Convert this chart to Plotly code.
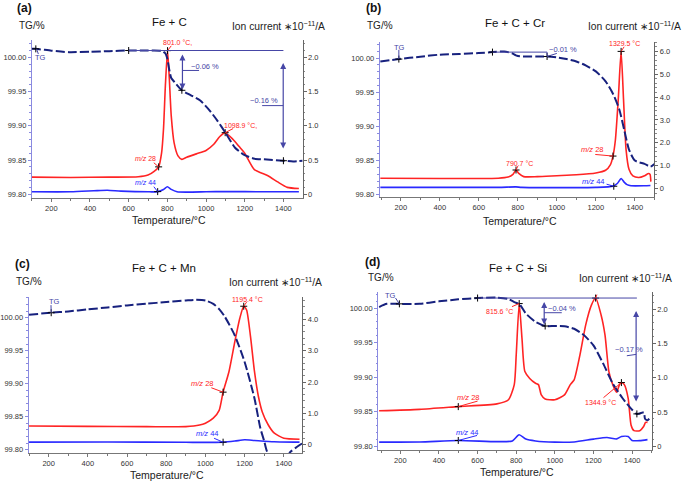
import plotly.graph_objects as go

W, H = 685, 483

# ---------------- (a) Fe + C ----------------
T_tg_a = [100, 120, 200, 290, 400, 500, 600, 700, 770, 790, 800, 810, 820, 840, 875, 920, 970, 1020, 1060, 1100, 1150, 1200, 1250, 1300, 1400, 1450, 1500]
tg_a = [100.0126, 100.0126, 100.0100, 100.0078, 100.0083, 100.0092, 100.0102, 100.0102, 100.0097, 100.006, 99.998, 99.982, 99.970, 99.963, 99.952, 99.945, 99.937, 99.922, 99.907, 99.890, 99.868, 99.857, 99.852, 99.851, 99.849, 99.848, 99.849]
T_28_a = [100, 300, 500, 650, 700, 730, 755, 770, 780, 790, 801, 810, 820, 835, 855, 875, 900, 950, 1000, 1040, 1070, 1099, 1140, 1170, 1200, 1250, 1320, 1370, 1420, 1480]
ms28_a = [0.25, 0.245, 0.25, 0.255, 0.28, 0.33, 0.40, 0.60, 0.95, 1.60, 2.10, 1.70, 1.15, 0.75, 0.56, 0.51, 0.54, 0.59, 0.64, 0.73, 0.84, 0.90, 0.80, 0.70, 0.60, 0.36, 0.27, 0.18, 0.10, 0.083]
T_44_a = [100, 300, 420, 490, 560, 700, 750, 780, 800, 820, 850, 1000, 1100, 1300, 1480]
ms44_a = [0.035, 0.035, 0.05, 0.058, 0.045, 0.035, 0.038, 0.07, 0.11, 0.07, 0.035, 0.035, 0.04, 0.035, 0.035]

# ---------------- (b) Fe + C + Cr ----------------
T_tg_b = [95, 190, 300, 400, 500, 600, 670, 730, 770, 790, 810, 900, 950, 1000, 1050, 1100, 1150, 1200, 1250, 1290, 1320, 1345, 1370, 1400, 1450, 1480, 1500]
tg_b = [99.995, 99.9985, 100.002, 100.005, 100.006, 100.0073, 100.0087, 100.0096, 100.007, 100.004, 100.0025, 100.0023, 100.0023, 100.001, 99.9985, 99.995, 99.989, 99.9805, 99.966, 99.9465, 99.925, 99.8955, 99.866, 99.850, 99.845, 99.841, 99.845]
T_28_b = [95, 400, 700, 750, 775, 790.7, 805, 830, 900, 1000, 1100, 1200, 1250, 1275, 1288, 1300, 1315, 1329.5, 1342, 1355, 1370, 1390, 1420, 1450, 1470, 1478, 1482]
ms28_b = [0.45, 0.44, 0.45, 0.50, 0.62, 0.81, 0.66, 0.52, 0.52, 0.56, 0.60, 0.68, 0.80, 1.05, 1.42, 2.10, 3.90, 6.00, 3.90, 1.70, 0.84, 0.55, 0.48, 0.56, 0.66, 0.62, 0.30]
T_44_b = [95, 700, 790, 820, 1200, 1288, 1310, 1330, 1345, 1360, 1380, 1450, 1480]
ms44_b = [0.05, 0.05, 0.07, 0.05, 0.05, 0.10, 0.22, 0.44, 0.28, 0.17, 0.12, 0.12, 0.13]

# ---------------- (c) Fe + C + Mn ----------------
T_tg_c = [100, 213, 300, 400, 500, 600, 700, 800, 900, 950, 1000, 1040, 1070, 1100, 1150, 1200, 1250, 1280, 1300, 1315, 1350, 1380, 1410, 1431, 1460, 1495]
tg_c = [100.0045, 100.0075, 100.0095, 100.0125, 100.0155, 100.0186, 100.0212, 100.0236, 100.026, 100.027, 100.026, 100.021, 100.013, 100.001, 99.973, 99.933, 99.878, 99.833, 99.813, 99.797, 99.786, 99.780, 99.784, 99.796, 99.803, 99.810]
T_28_c = [100, 400, 700, 900, 970, 1000, 1040, 1070, 1090, 1120, 1150, 1175, 1195.4, 1210, 1230, 1250, 1270, 1290, 1320, 1350, 1400, 1480]
ms28_c = [0.60, 0.59, 0.58, 0.58, 0.63, 0.69, 0.85, 1.10, 1.68, 2.33, 3.29, 4.03, 4.42, 4.30, 3.45, 2.35, 1.55, 1.05, 0.64, 0.38, 0.21, 0.18]
T_44_c = [100, 500, 900, 1090, 1150, 1200, 1250, 1350, 1480]
ms44_c = [0.085, 0.09, 0.08, 0.085, 0.12, 0.16, 0.14, 0.10, 0.085]

# ---------------- (d) Fe + C + Si ----------------
T_tg_d = [90, 130, 195, 300, 400, 500, 600, 700, 760, 790, 815.6, 850, 900, 950, 1000, 1050, 1100, 1150, 1200, 1250, 1300, 1350, 1400, 1425, 1455, 1462, 1467, 1480, 1500]
tg_d = [100.0014, 100.006, 100.006, 100.006, 100.0096, 100.0125, 100.0144, 100.015, 100.013, 100.0086, 100.006, 99.992, 99.980, 99.974, 99.974, 99.9736, 99.970, 99.961, 99.946, 99.920, 99.891, 99.870, 99.853, 99.847, 99.849, 99.849, 99.840, 99.838, 99.843]
T_28_d = [90, 300, 500, 700, 760, 790, 800, 815.6, 830, 845, 870, 900, 915, 930, 950, 1000, 1050, 1080, 1100, 1130, 1160, 1190, 1211.3, 1240, 1260, 1280, 1300, 1320, 1335, 1344.9, 1360, 1380, 1395, 1410, 1440, 1460, 1470, 1480]
ms28_d = [0.52, 0.54, 0.58, 0.62, 0.68, 0.90, 1.33, 2.08, 1.57, 1.09, 0.99, 0.92, 0.90, 0.75, 0.69, 0.68, 0.75, 0.90, 0.97, 1.33, 1.77, 2.06, 2.16, 1.91, 1.62, 1.09, 0.90, 0.79, 0.90, 0.93, 0.90, 0.70, 0.31, 0.23, 0.23, 0.29, 0.35, 0.35]
T_44_d = [90, 300, 500, 700, 780, 815, 850, 900, 1000, 1100, 1200, 1270, 1320, 1345, 1380, 1400, 1440, 1480]
ms44_d = [0.063, 0.065, 0.087, 0.07, 0.08, 0.17, 0.107, 0.08, 0.063, 0.066, 0.107, 0.13, 0.11, 0.145, 0.145, 0.087, 0.085, 0.10]

# marker points ("+")
plus_tg = {0: ([120, 600, 875, 1400], [100.0126, 100.0102, 99.952, 99.849]),
           1: ([190, 670, 950], [99.9985, 100.0087, 100.0023]),
           2: ([213], [100.0075]),
           3: ([195, 600, 950, 1425], [100.006, 100.0144, 99.974, 99.847])}
plus_ms = {0: ([755, 801, 1099, 750], [0.40, 2.10, 0.90, 0.038]),
           1: ([790.7, 1288, 1329.5, 1292], [0.81, 1.42, 6.0, 0.10]),
           2: ([1090, 1195.4, 1090], [1.68, 4.42, 0.085]),
           3: ([500, 815.6, 1211.3, 1344.9, 500], [0.58, 2.08, 2.16, 0.93, 0.087])}

titles = ["Fe + C", "Fe + C + Cr", "Fe + C + Mn", "Fe + C + Si"]
letters = ["(a)", "(b)", "(c)", "(d)"]

# panel pixel boxes: left, right, top, bottom
boxes = [(31, 302, 40, 199), (379.3, 654.3, 41.7, 198.3), (27.7, 301.7, 298.3, 455), (377.7, 651.7, 293.3, 451.7)]
xranges = [[100, 1499], [92, 1500], [98, 1494], [85, 1502]]
tgranges = [[99.7942, 100.0258], [99.7959, 100.0242], [99.795, 100.0312], [99.7951, 100.023]]
ionranges = [[-0.058, 2.258], [-0.392, 6.431], [-0.264, 4.712], [-0.049, 2.247]]
iontv = [[0, 0.5, 1, 1.5, 2], [0, 1, 2, 3, 4, 5, 6], [0, 1, 2, 3, 4], [0, 0.5, 1, 1.5, 2]]
ionminor = [0.1, 0.2, 0.2, 0.1]

data_sets = [(T_tg_a, tg_a, T_28_a, ms28_a, T_44_a, ms44_a),
             (T_tg_b, tg_b, T_28_b, ms28_b, T_44_b, ms44_b),
             (T_tg_c, tg_c, T_28_c, ms28_c, T_44_c, ms44_c),
             (T_tg_d, tg_d, T_28_d, ms28_d, T_44_d, ms44_d)]

NAVY = "#17217e"
RED = "#ff2424"
BLUE = "#2a2aff"
SLATE = "#4646a6"
FONT = "Arial, Liberation Sans, sans-serif"

fig = go.Figure()
layout = dict(width=W, height=H, margin=dict(l=0, r=0, t=0, b=0),
              paper_bgcolor="white", plot_bgcolor="white", showlegend=False,
              font=dict(family=FONT, color="#333"))
annotations = []
shapes = []


def px(x):
    return x / W


def py(y):
    return 1 - y / H


for p in range(4):
    xn = "x" if p == 0 else f"x{p+1}"
    yi_ion = 2 * p + 1
    yi_tg = 2 * p + 2
    yn_ion = "y" if yi_ion == 1 else f"y{yi_ion}"
    yn_tg = f"y{yi_tg}"
    l, r, t, b = boxes[p]
    xkey = "xaxis" if p == 0 else f"xaxis{p+1}"
    layout[xkey] = dict(domain=[px(l), px(r)], anchor=yn_ion, range=xranges[p],
                        tickvals=[200, 400, 600, 800, 1000, 1200, 1400],
                        showline=True, linecolor="#777", linewidth=1, ticks="outside",
                        ticklen=3, tickcolor="#777", tickfont=dict(size=7.5, color="#333"),
                        showgrid=False, zeroline=False,
                        minor=dict(dtick=100, tick0=0, ticks="outside", ticklen=2, tickcolor="#777"))
    ykey_ion = "yaxis" if yi_ion == 1 else f"yaxis{yi_ion}"
    layout[ykey_ion] = dict(domain=[py(b), py(t)], anchor=xn, side="right", range=ionranges[p],
                            tickvals=iontv[p],
                            ticktext=["0" if v == 0 else f"{v:.1f}" for v in iontv[p]],
                            showline=True, linecolor="#666", linewidth=1, ticks="outside",
                            ticklen=3, tickcolor="#666", tickfont=dict(size=7.5, color="#333"),
                            showgrid=False, zeroline=False,
                            minor=dict(dtick=ionminor[p], tick0=0, ticks="outside", ticklen=1.5, tickcolor="#888"))
    tv = [99.80, 99.85, 99.90, 99.95, 100.00]
    layout[f"yaxis{yi_tg}"] = dict(overlaying=yn_ion, anchor=xn, side="left", range=tgranges[p],
                                   tickvals=tv, ticktext=[f"{v:.2f}" for v in tv],
                                   showline=True, linecolor="#8a8ae0", linewidth=1, ticks="outside",
                                   ticklen=3, tickcolor="#8a8ae0", tickfont=dict(size=7.5, color="#333"),
                                   showgrid=False, zeroline=False,
                                   minor=dict(dtick=0.01, tick0=99.8, ticks="outside", ticklen=1.5, tickcolor="#8a8ae0"))
    Tt, tg, T28, m28, T44, m44 = data_sets[p]
    fig.add_trace(go.Scatter(x=T28, y=m28, xaxis=xn, yaxis=yn_ion, mode="lines",
                             line=dict(color=RED, width=1.6, shape="spline", smoothing=0.6)))
    fig.add_trace(go.Scatter(x=T44, y=m44, xaxis=xn, yaxis=yn_ion, mode="lines",
                             line=dict(color=BLUE, width=1.6, shape="spline", smoothing=0.6)))
    fig.add_trace(go.Scatter(x=plus_ms[p][0], y=plus_ms[p][1], xaxis=xn, yaxis=yn_ion, mode="markers",
                             marker=dict(symbol="cross-thin", size=5, line=dict(color="black", width=1))))
    fig.add_trace(go.Scatter(x=Tt, y=tg, xaxis=xn, yaxis=yn_tg, mode="lines",
                             line=dict(color=NAVY, width=2, dash="9px,3px", shape="spline", smoothing=0.6)))
    fig.add_trace(go.Scatter(x=plus_tg[p][0], y=plus_tg[p][1], xaxis=xn, yaxis=yn_tg, mode="markers",
                             marker=dict(symbol="cross-thin", size=5, line=dict(color="black", width=1))))

# panel headers (pixel positions -> paper)
hdr = [
    # letter (x,y), title (x,y), TG/% (x,y), ion (x,y), temp (x,y)
    ((23.3, 8.3), (168.3, 22.3), (30.8, 25.7), (277.5, 25.7), (168.3, 221)),
    ((373.3, 8.3), (515, 22.7), (380, 25.7), (634.5, 25.7), (520, 221.5)),
    ((21.7, 265), (163.5, 269.3), (28.3, 282.7), (275, 282.7), (166, 477.3)),
    ((371.7, 262.7), (517.5, 269.3), (380.5, 278.3), (625.5, 278.3), (517, 473.8)),
]


def ptext(x, y, text, size, color):
    annotations.append(dict(x=px(x), y=py(y), xref="paper", yref="paper", text=text,
                            xanchor="center", yanchor="middle", showarrow=False,
                            font=dict(size=size, color=color)))


for p in range(4):
    lt, tt, tg_, io, te = hdr[p]
    ptext(lt[0], lt[1], "<b>" + letters[p] + "</b>", 12, "#111")
    ptext(tt[0], tt[1], titles[p], 11.5, "#111")
    ptext(tg_[0], tg_[1], "TG/%", 10, "#222")
    ptext(io[0], io[1], "Ion current ∗10<sup>−11</sup>/A", 10.3, "#222")
    ptext(te[0], te[1], "Temperature/°C", 10.5, "#222")


def label(xa, ya, x, y, text, color, size=7.5):
    annotations.append(dict(x=x, y=y, xref=xa, yref=ya, text=text, showarrow=False,
                            xanchor="center", yanchor="middle",
                            font=dict(size=size, color=color)))


def seg(xa, ya, x0, y0, x1, y1, color, w=1):
    shapes.append(dict(type="line", xref=xa, yref=ya, x0=x0, y0=y0, x1=x1, y1=y1,
                       line=dict(color=color, width=w)))


def darrow(xa, ya, x, y0, y1):
    annotations.append(dict(x=x, y=y1, ax=x, ay=y0, xref=xa, yref=ya, axref=xa, ayref=ya,
                            text="", showarrow=True, arrowhead=2, arrowside="end+start",
                            arrowsize=1, arrowwidth=1.2, arrowcolor=SLATE))


# ---- (a) labels
label("x", "y", 852, 2.22, "801.0 °C,", RED, 7)
seg("x", "y", 820, 2.17, 801, 2.10, RED)
label("x", "y", 1179, 1.005, "1098.9 °C,", RED, 7)
seg("x", "y", 1099, 0.90, 1140, 0.96, RED)
label("x", "y", 688, 0.52, "<i>m/z</i> 28", RED, 7)
seg("x", "y", 730, 0.46, 755, 0.40, RED)
label("x", "y", 688, 0.17, "<i>m/z</i> 44", BLUE, 7)
seg("x", "y", 730, 0.11, 750, 0.038, BLUE)
label("x", "y2", 145, 100.0006, "TG", SLATE, 7.5)
seg("x", "y2", 124, 100.0126, 133, 100.005, SLATE)
seg("x", "y2", 600, 100.0102, 1400, 100.0102, SLATE)
darrow("x", "y2", 878, 100.0064, 99.953)
seg("x", "y2", 878, 99.981, 964, 99.981, SLATE)
label("x", "y2", 993, 99.987, "−0.06 %", SLATE, 7.5)
darrow("x", "y2", 1399, 99.994, 99.867)
seg("x", "y2", 1290, 99.9296, 1399, 99.9296, SLATE)
label("x", "y2", 1301, 99.937, "−0.16 %", SLATE, 7.5)

# ---- (b) labels
label("x2", "y4", 194, 100.0155, "TG", SLATE, 7.5)
seg("x2", "y4", 190, 100.012, 190, 99.9985, SLATE)
seg("x2", "y4", 670, 100.0087, 950, 100.0087, SLATE)
seg("x2", "y4", 950, 100.0087, 950, 100.0023, SLATE)
seg("x2", "y4", 950, 100.0023, 1000, 100.0068, SLATE)
label("x2", "y4", 1030, 100.013, "−0.01 %", SLATE, 7.5)
label("x2", "y3", 1346, 6.36, "1329.5 °C", RED, 7)
seg("x2", "y3", 1329.5, 6.0, 1345, 6.2, RED)
label("x2", "y3", 807, 1.10, "790.7 °C", RED, 7)
seg("x2", "y3", 790.7, 0.81, 800, 0.98, RED)
label("x2", "y3", 1183, 1.72, "<i>m/z</i> 28", RED, 7.5)
seg("x2", "y3", 1197, 1.49, 1288, 1.42, RED)
label("x2", "y3", 1190, 0.32, "<i>m/z</i> 44", BLUE, 7.5)
seg("x2", "y3", 1255, 0.19, 1292, 0.10, BLUE)

# ---- (c) labels
label("x3", "y6", 228, 100.0246, "TG", SLATE, 7.5)
seg("x3", "y6", 212, 100.019, 213, 100.0075, SLATE)
label("x3", "y5", 1215, 4.64, "1195.4 °C", RED, 7)
seg("x3", "y5", 1195.4, 4.42, 1210, 4.55, RED)
label("x3", "y5", 984, 1.96, "<i>m/z</i> 28", RED, 7.5)
seg("x3", "y5", 1030, 1.82, 1090, 1.68, RED)
label("x3", "y5", 1010, 0.37, "<i>m/z</i> 44", BLUE, 7.5)
seg("x3", "y5", 1044, 0.21, 1090, 0.085, BLUE)

# ---- (d) labels
label("x4", "y8", 149, 100.018, "TG", SLATE, 7.5)
seg("x4", "y8", 175, 100.0144, 195, 100.006, SLATE)
seg("x4", "y8", 600, 100.0144, 1425, 100.0144, SLATE)
darrow("x4", "y8", 945, 100.011, 99.976)
seg("x4", "y8", 945, 99.9932, 1036, 99.9932, SLATE)
label("x4", "y8", 1037, 100.000, "−0.04 %", SLATE, 7.5)
darrow("x4", "y8", 1421, 99.998, 99.865)
seg("x4", "y8", 1373, 99.931, 1421, 99.933, SLATE)
label("x4", "y8", 1386, 99.940, "−0.17 %", SLATE, 7.5)
label("x4", "y7", 1226, 2.26, "1211.3 °C", RED, 7)
seg("x4", "y7", 1211.3, 2.16, 1218, 2.21, RED)
label("x4", "y7", 714, 1.963, "815.6 °C", RED, 7)
seg("x4", "y7", 778, 2.035, 815.6, 2.08, RED)
label("x4", "y7", 1235, 0.644, "1344.9 °C", RED, 7)
seg("x4", "y7", 1252, 0.71, 1344.9, 0.93, RED)
label("x4", "y7", 554, 0.71, "<i>m/z</i> 28", RED, 7.5)
seg("x4", "y7", 500, 0.58, 600, 0.66, RED)
label("x4", "y7", 549, 0.21, "<i>m/z</i> 44", BLUE, 7.5)
seg("x4", "y7", 500, 0.087, 597, 0.16, BLUE)

layout["annotations"] = annotations
layout["shapes"] = shapes
fig.update_layout(**layout)
fig.write_html("out.html", config={"displayModeBar": False},
               post_script="document.body.style.margin='0px';document.body.style.padding='0px';")
